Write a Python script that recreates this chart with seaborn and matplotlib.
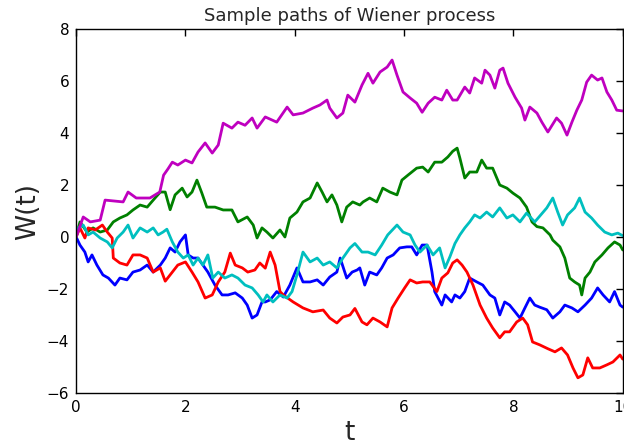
import matplotlib
matplotlib.use("Agg")
import matplotlib.pyplot as plt
import pandas as pd
import seaborn as sns

# Five sample paths W(t), listed as (t, W) pairs per path
blue_t = [0, 0.07, 0.16, 0.22, 0.29, 0.38, 0.49, 0.59, 0.71, 0.8, 0.93, 1.04, 1.17, 1.3, 1.41, 1.54, 1.63, 1.72, 1.81, 1.9, 2.0, 2.05, 2.14, 2.23, 2.32, 2.41, 2.54, 2.67, 2.78, 2.91, 3.04, 3.13, 3.22, 3.31, 3.4, 3.46, 3.55, 3.67, 3.79, 3.91, 4.04, 4.15, 4.28, 4.41, 4.52, 4.64, 4.77, 4.83, 4.95, 5.05, 5.14, 5.19, 5.28, 5.37, 5.5, 5.59, 5.69, 5.8, 5.92, 6.05, 6.14, 6.23, 6.33, 6.42, 6.51, 6.56, 6.69, 6.75, 6.87, 6.93, 7.02, 7.11, 7.2, 7.33, 7.44, 7.57, 7.66, 7.75, 7.84, 7.93, 8.03, 8.12, 8.21, 8.3, 8.39, 8.48, 8.61, 8.72, 8.85, 8.94, 9.07, 9.18, 9.31, 9.43, 9.54, 9.64, 9.76, 9.85, 9.95, 10.0]
blue_w = [0, -0.31, -0.58, -0.96, -0.69, -1.08, -1.46, -1.58, -1.85, -1.58, -1.65, -1.35, -1.27, -1.08, -1.35, -1.08, -0.81, -0.42, -0.58, -0.19, 0.08, -0.69, -0.81, -0.81, -1.08, -1.35, -1.85, -2.23, -2.23, -2.15, -2.35, -2.62, -3.12, -3.0, -2.5, -2.5, -2.42, -2.1, -2.31, -1.85, -1.19, -1.73, -1.73, -1.65, -1.85, -1.54, -1.35, -0.81, -1.58, -1.35, -1.27, -1.19, -1.85, -1.35, -1.46, -1.19, -0.81, -0.69, -0.42, -0.38, -0.38, -0.69, -0.31, -0.31, -1.35, -2.1, -2.62, -2.23, -2.5, -2.23, -2.35, -2.1, -1.58, -1.73, -1.85, -2.23, -2.35, -3.0, -2.5, -2.62, -2.88, -3.12, -2.73, -2.35, -2.62, -2.7, -2.8, -3.12, -2.88, -2.62, -2.73, -2.88, -2.62, -2.35, -1.96, -2.23, -2.5, -2.1, -2.62, -2.7]

green_t = [0, 0.07, 0.2, 0.31, 0.44, 0.57, 0.68, 0.8, 0.93, 1.04, 1.17, 1.3, 1.41, 1.54, 1.63, 1.72, 1.81, 1.94, 2.03, 2.12, 2.21, 2.3, 2.39, 2.54, 2.69, 2.85, 2.96, 3.13, 3.24, 3.31, 3.4, 3.49, 3.6, 3.73, 3.82, 3.91, 4.04, 4.15, 4.28, 4.41, 4.5, 4.59, 4.68, 4.77, 4.86, 4.95, 5.06, 5.19, 5.25, 5.37, 5.5, 5.61, 5.74, 5.87, 5.96, 6.07, 6.23, 6.34, 6.44, 6.56, 6.69, 6.8, 6.89, 6.97, 7.02, 7.11, 7.2, 7.33, 7.42, 7.51, 7.62, 7.75, 7.88, 7.99, 8.12, 8.24, 8.34, 8.43, 8.54, 8.67, 8.72, 8.85, 8.94, 9.03, 9.12, 9.21, 9.25, 9.31, 9.4, 9.49, 9.62, 9.73, 9.85, 9.95, 10.0]
green_w = [0, 0.58, 0.19, 0.35, 0.19, 0.27, 0.58, 0.73, 0.85, 1.04, 1.23, 1.15, 1.42, 1.73, 1.73, 1.05, 1.62, 1.88, 1.54, 1.73, 2.19, 1.69, 1.15, 1.15, 1.04, 1.04, 0.58, 0.77, 0.46, -0.04, 0.35, 0.19, -0.04, 0.27, 0.0, 0.73, 0.96, 1.35, 1.5, 2.08, 1.73, 1.35, 1.62, 1.23, 0.58, 1.15, 1.35, 1.23, 1.35, 1.5, 1.35, 1.88, 1.73, 1.62, 2.19, 2.38, 2.65, 2.69, 2.5, 2.88, 2.88, 3.08, 3.3, 3.42, 3.04, 2.27, 2.5, 2.5, 2.96, 2.65, 2.65, 2.0, 1.88, 1.69, 1.5, 1.15, 0.58, 0.4, 0.35, 0.08, -0.12, -0.38, -0.81, -1.58, -1.73, -1.85, -2.23, -1.58, -1.35, -0.96, -0.69, -0.42, -0.19, -0.31, -0.5]

red_t = [0, 0.07, 0.16, 0.22, 0.35, 0.48, 0.57, 0.66, 0.68, 0.8, 0.93, 1.04, 1.17, 1.3, 1.41, 1.54, 1.63, 1.76, 1.86, 2.0, 2.12, 2.23, 2.36, 2.49, 2.6, 2.72, 2.82, 2.91, 3.04, 3.14, 3.27, 3.36, 3.46, 3.55, 3.64, 3.73, 3.79, 3.97, 4.15, 4.33, 4.52, 4.64, 4.77, 4.88, 5.01, 5.1, 5.23, 5.32, 5.43, 5.56, 5.69, 5.78, 5.89, 6.01, 6.11, 6.23, 6.34, 6.47, 6.6, 6.69, 6.8, 6.89, 6.97, 7.06, 7.15, 7.26, 7.39, 7.51, 7.62, 7.75, 7.84, 7.93, 8.06, 8.17, 8.26, 8.35, 8.48, 8.63, 8.76, 8.88, 8.99, 9.09, 9.18, 9.27, 9.36, 9.45, 9.58, 9.71, 9.82, 9.95, 10.0]
red_w = [0, 0.35, -0.04, 0.35, 0.27, 0.46, 0.19, -0.04, -0.81, -1.0, -1.08, -0.69, -0.69, -0.81, -1.35, -1.19, -1.7, -1.35, -1.08, -0.96, -1.35, -1.73, -2.35, -2.23, -1.73, -1.35, -0.62, -1.08, -1.19, -1.35, -1.27, -1.0, -1.2, -0.58, -1.08, -2.1, -2.23, -2.5, -2.73, -2.88, -2.81, -3.12, -3.31, -3.08, -3.0, -2.75, -3.27, -3.38, -3.12, -3.27, -3.46, -2.73, -2.35, -1.96, -1.65, -1.77, -1.73, -1.73, -2.1, -1.58, -1.38, -1.0, -0.88, -1.08, -1.35, -1.85, -2.62, -3.12, -3.5, -3.88, -3.65, -3.65, -3.27, -3.12, -3.38, -4.04, -4.15, -4.3, -4.42, -4.27, -4.54, -5.04, -5.42, -5.31, -4.65, -5.04, -5.04, -4.92, -4.81, -4.54, -4.7]

cyan_t = [0, 0.04, 0.13, 0.22, 0.31, 0.44, 0.57, 0.66, 0.75, 0.86, 0.95, 1.04, 1.17, 1.3, 1.41, 1.5, 1.59, 1.66, 1.76, 1.86, 1.96, 2.05, 2.14, 2.23, 2.32, 2.41, 2.5, 2.6, 2.72, 2.85, 2.96, 3.09, 3.22, 3.33, 3.42, 3.49, 3.6, 3.73, 3.86, 3.95, 4.04, 4.15, 4.28, 4.41, 4.52, 4.64, 4.77, 4.88, 5.01, 5.1, 5.23, 5.34, 5.47, 5.59, 5.7, 5.87, 5.98, 6.11, 6.2, 6.29, 6.42, 6.53, 6.65, 6.75, 6.84, 6.93, 7.02, 7.11, 7.2, 7.29, 7.39, 7.51, 7.62, 7.75, 7.88, 7.99, 8.12, 8.24, 8.39, 8.48, 8.61, 8.72, 8.81, 8.9, 8.99, 9.12, 9.21, 9.31, 9.43, 9.54, 9.67, 9.8, 9.91, 10.0]
cyan_w = [0, 0.35, 0.46, 0.08, 0.19, -0.04, -0.19, -0.42, -0.04, 0.19, 0.46, -0.04, 0.35, 0.19, 0.35, 0.08, 0.19, 0.3, -0.19, -0.58, -0.81, -0.69, -1.08, -0.81, -1.08, -0.69, -1.58, -1.35, -1.58, -1.46, -1.58, -1.85, -1.96, -2.23, -2.5, -2.23, -2.5, -2.23, -2.35, -2.1, -1.46, -0.58, -0.96, -0.81, -1.08, -0.96, -1.19, -0.81, -0.42, -0.25, -0.58, -0.58, -0.69, -0.31, 0.08, 0.46, 0.19, 0.08, -0.31, -0.58, -0.31, -0.69, -0.42, -1.19, -0.75, -0.25, 0.08, 0.35, 0.58, 0.85, 0.73, 0.96, 0.77, 1.12, 0.73, 0.85, 0.58, 0.92, 0.58, 0.8, 1.12, 1.5, 0.96, 0.46, 0.85, 1.12, 1.5, 0.96, 0.73, 0.46, 0.19, 0.08, 0.15, 0.05]

magenta_t = [0, 0.13, 0.26, 0.44, 0.53, 0.86, 0.95, 1.1, 1.35, 1.53, 1.6, 1.68, 1.76, 1.86, 2.0, 2.12, 2.23, 2.36, 2.49, 2.6, 2.69, 2.85, 2.96, 3.09, 3.22, 3.31, 3.46, 3.67, 3.86, 3.97, 4.15, 4.33, 4.46, 4.59, 4.64, 4.77, 4.88, 4.97, 5.1, 5.23, 5.34, 5.43, 5.56, 5.69, 5.78, 5.87, 5.98, 6.11, 6.23, 6.33, 6.44, 6.56, 6.69, 6.78, 6.89, 6.97, 7.11, 7.2, 7.29, 7.42, 7.48, 7.57, 7.66, 7.75, 7.81, 7.9, 8.03, 8.15, 8.21, 8.3, 8.43, 8.52, 8.63, 8.79, 8.88, 8.98, 9.07, 9.16, 9.25, 9.34, 9.43, 9.54, 9.62, 9.71, 9.8, 9.89, 10.0]
magenta_w = [0, 0.77, 0.58, 0.65, 1.42, 1.35, 1.73, 1.5, 1.5, 1.73, 2.38, 2.62, 2.88, 2.77, 2.96, 2.85, 3.27, 3.62, 3.23, 3.54, 4.38, 4.19, 4.42, 4.3, 4.58, 4.19, 4.62, 4.42, 5.0, 4.7, 4.77, 4.96, 5.08, 5.27, 4.96, 4.58, 4.77, 5.46, 5.19, 5.85, 6.3, 5.92, 6.35, 6.54, 6.81, 6.23, 5.58, 5.35, 5.15, 4.8, 5.15, 5.38, 5.27, 5.65, 5.27, 5.27, 5.77, 5.54, 6.12, 5.92, 6.42, 6.23, 5.73, 6.42, 6.5, 5.92, 5.38, 4.96, 4.5, 5.0, 4.77, 4.42, 4.04, 4.58, 4.38, 3.92, 4.42, 4.88, 5.27, 5.96, 6.23, 6.04, 6.12, 5.58, 5.27, 4.88, 4.85]

paths = [
    ("b", blue_t, blue_w),
    ("g", green_t, green_w),
    ("r", red_t, red_w),
    ("c", cyan_t, cyan_w),
    ("m", magenta_t, magenta_w),
]
colors = {"b": "#0000ff", "g": "#008000", "r": "#ff0000", "c": "#00bfbf", "m": "#bf00bf"}

frames = [pd.DataFrame({"t": t, "W": w, "path": name}) for name, t, w in paths]
df = pd.concat(frames, ignore_index=True)

sns.set_style("white")
plt.rcParams["font.family"] = ["DejaVu Sans"]

fig = plt.figure(figsize=(6.24, 4.48), dpi=100)
ax = fig.add_axes([0.122, 0.123, 0.876, 0.812])

sns.lineplot(data=df, x="t", y="W", hue="path", palette=colors,
             hue_order=[p[0] for p in paths], estimator=None, sort=False,
             linewidth=2.0, legend=False, ax=ax)

ax.set_xlim(0, 10)
ax.set_ylim(-6, 8)
ax.set_xticks([0, 2, 4, 6, 8, 10])
ax.set_yticks([-6, -4, -2, 0, 2, 4, 6, 8])
ax.tick_params(direction="in", length=5, width=1, top=True, right=True,
               labelsize=11, colors="black", pad=5)
for s in ax.spines.values():
    s.set_visible(True)
    s.set_color("black")
    s.set_linewidth(1.0)

ax.set_title("Sample paths of Wiener process", fontsize=13, pad=6)
ax.set_xlabel("t", fontsize=19, labelpad=4)
ax.set_ylabel("W(t)", fontsize=19, labelpad=4)

fig.savefig("out.png", dpi=100, facecolor="white")
